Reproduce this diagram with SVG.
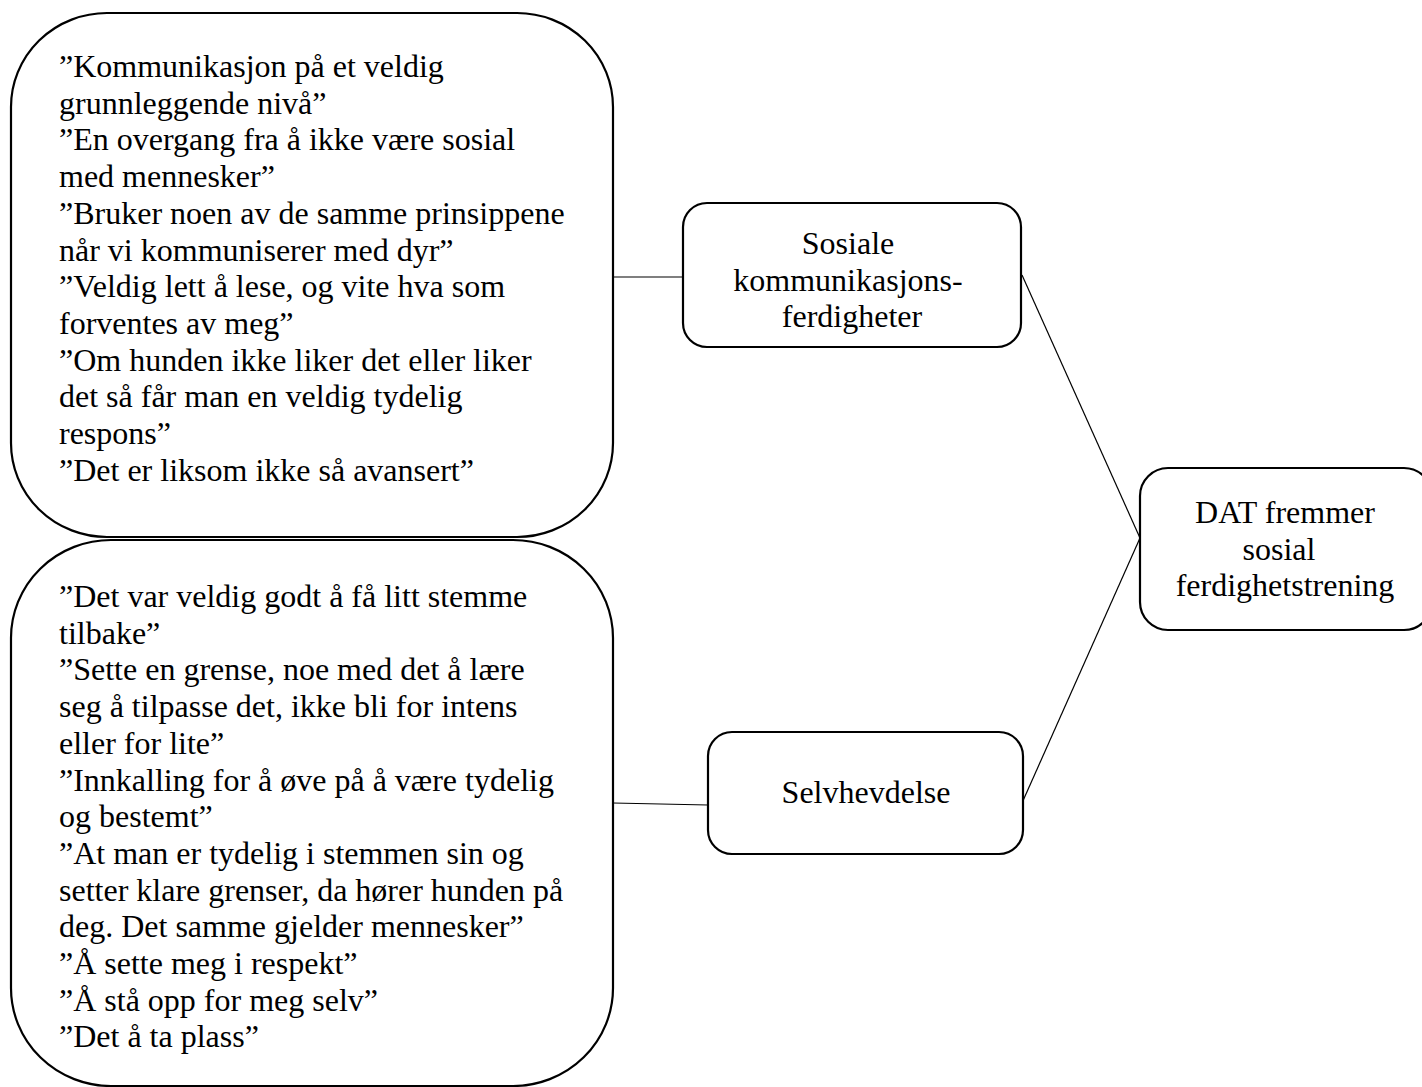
<svg xmlns="http://www.w3.org/2000/svg" width="1422" height="1087" viewBox="0 0 1422 1087">
<style>
.box{fill:#fff;stroke:#000;stroke-width:2.2}
.t{font-family:"Liberation Serif","Times New Roman",serif;font-size:32px;fill:#000}
.c{text-anchor:middle}
.conn{stroke:#000;stroke-width:1.2;fill:none}
</style>
<rect width="1422" height="1087" fill="#fff"/>
<g id="connectors">
<line class="conn" x1="613" y1="277" x2="683" y2="277"/>
<line class="conn" x1="613" y1="803" x2="708" y2="805"/>
<line class="conn" x1="1022" y1="275" x2="1140" y2="538"/>
<line class="conn" x1="1140" y1="538" x2="1022" y2="803"/>
</g>
<g id="quotes-communication">
<rect class="box" x="11" y="13" width="602" height="524" rx="96" ry="94"/>
<text class="t" x="59">
<tspan x="59" y="77">”Kommunikasjon på et veldig</tspan>
<tspan x="59" y="113.7">grunnleggende nivå”</tspan>
<tspan x="59" y="150.4">”En overgang fra å ikke være sosial</tspan>
<tspan x="59" y="187.1">med mennesker”</tspan>
<tspan x="59" y="223.8">”Bruker noen av de samme prinsippene</tspan>
<tspan x="59" y="260.5">når vi kommuniserer med dyr”</tspan>
<tspan x="59" y="297.2">”Veldig lett å lese, og vite hva som</tspan>
<tspan x="59" y="333.9">forventes av meg”</tspan>
<tspan x="59" y="370.6">”Om hunden ikke liker det eller liker</tspan>
<tspan x="59" y="407.3">det så får man en veldig tydelig</tspan>
<tspan x="59" y="444">respons”</tspan>
<tspan x="59" y="480.7">”Det er liksom ikke så avansert”</tspan>
</text>
</g>
<g id="quotes-assertiveness">
<rect class="box" x="11" y="540" width="602" height="546" rx="100" ry="98"/>
<text class="t" x="59">
<tspan x="59" y="607">”Det var veldig godt å få litt stemme</tspan>
<tspan x="59" y="643.7">tilbake”</tspan>
<tspan x="59" y="680.4">”Sette en grense, noe med det å lære</tspan>
<tspan x="59" y="717.1">seg å tilpasse det, ikke bli for intens</tspan>
<tspan x="59" y="753.8">eller for lite”</tspan>
<tspan x="59" y="790.5">”Innkalling for å øve på å være tydelig</tspan>
<tspan x="59" y="827.2">og bestemt”</tspan>
<tspan x="59" y="863.9">”At man er tydelig i stemmen sin og</tspan>
<tspan x="59" y="900.6">setter klare grenser, da hører hunden på</tspan>
<tspan x="59" y="937.3">deg. Det samme gjelder mennesker”</tspan>
<tspan x="59" y="974">”Å sette meg i respekt”</tspan>
<tspan x="59" y="1010.7">”Å stå opp for meg selv”</tspan>
<tspan x="59" y="1047.4">”Det å ta plass”</tspan>
</text>
</g>
<g id="social-communication">
<rect class="box" x="683" y="203" width="338" height="144" rx="24" ry="24"/>
<text class="t c" x="852">
<tspan x="852" y="254">Sosiale</tspan>
<tspan x="852" y="290.7">kommunikasjons-</tspan>
<tspan x="852" y="327.4">ferdigheter</tspan>
</text>
</g>
<g id="assertiveness">
<rect class="box" x="708" y="732" width="315" height="122" rx="24" ry="24"/>
<text class="t c" x="866" y="803">Selvhevdelse</text>
</g>
<g id="dat">
<rect class="box" x="1140" y="468" width="292" height="162" rx="28" ry="28"/>
<text class="t c" x="1285">
<tspan x="1289" y="523">DAT fremmer</tspan>
<tspan x="1283" y="559.7">sosial</tspan>
<tspan x="1285" y="596.4">ferdighetstrening</tspan>
</text>
</g>
</svg>
